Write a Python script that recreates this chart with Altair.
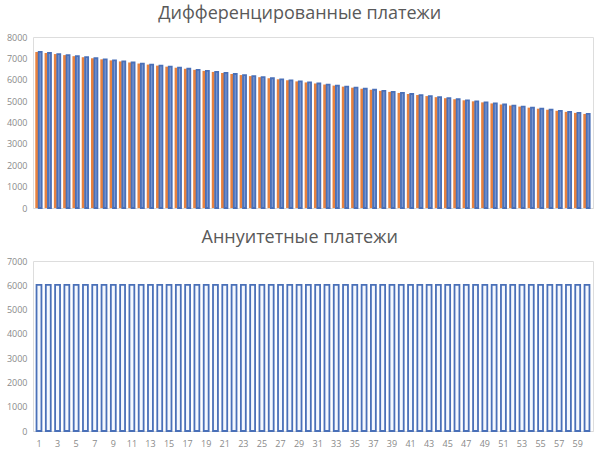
import altair as alt
import pandas as pd

months = list(range(1, 61))
diff_payments = [
    7300, 7251, 7202, 7153, 7103, 7054, 7005, 6956, 6907, 6858,
    6808, 6759, 6710, 6661, 6612, 6563, 6514, 6464, 6415, 6366,
    6317, 6268, 6219, 6170, 6120, 6071, 6022, 5973, 5924, 5875,
    5825, 5776, 5727, 5678, 5629, 5580, 5531, 5481, 5432, 5383,
    5334, 5285, 5236, 5186, 5137, 5088, 5039, 4990, 4941, 4892,
    4842, 4793, 4744, 4695, 4646, 4597, 4548, 4498, 4449, 4400,
]
annuity_payments = [6020] * 60

title_top = "Дифференцированные платежи"
title_bottom = "Аннуитетные платежи"

df_top = pd.DataFrame({"month": months, "value": diff_payments})
df_bot = pd.DataFrame({"month": months, "value": annuity_payments})

W = 560
BLUE = "#4a70b8"
ORANGE = "#e8823f"
FILL = "#7a98d4"
GRAY = "#8a8a8a"

xscale = alt.Scale(paddingInner=0.47, paddingOuter=0.38)

def title(t):
    return alt.TitleParams(t, fontSize=18, font="Open Sans", fontWeight="normal",
                           color="#595959", anchor="middle", frame="bounds", offset=10)

# Top panel
x_top = alt.X("month:O", scale=xscale, title=None,
              axis=alt.Axis(labels=False, ticks=False, domainColor="#d9d9d9"))
y_top = alt.Y("value:Q", scale=alt.Scale(domain=[0, 8000]), title=None,
              axis=alt.Axis(values=list(range(0, 8001, 1000)), format="d", grid=False,
                            domain=False, ticks=False, labelFontSize=9, labelColor=GRAY,
                            labelPadding=6))

orange = alt.Chart(df_top).mark_bar(color=ORANGE, width=3, xOffset=-2.2).encode(x=x_top, y=y_top)
blue = alt.Chart(df_top).mark_bar(fill=FILL, stroke=BLUE, strokeWidth=1.8, width=3,
                                  xOffset=1.2).encode(x=x_top, y=y_top)
top = alt.layer(orange, blue).properties(width=W, height=171, title=title(title_top))

# Bottom panel
x_bot = alt.X("month:O", scale=xscale, title=None,
              axis=alt.Axis(ticks=False, domainColor="#d9d9d9", labelAngle=0,
                            labelFontSize=9, labelColor=GRAY, labelPadding=8,
                            labelExpr="datum.value % 2 == 1 ? datum.label : ''"))
y_bot = alt.Y("value:Q", scale=alt.Scale(domain=[0, 7000]), title=None,
              axis=alt.Axis(values=list(range(0, 7001, 1000)), format="d", grid=False,
                            domain=False, ticks=False, labelFontSize=9, labelColor=GRAY,
                            labelPadding=6))
bottom = alt.Chart(df_bot).mark_bar(fill="#f4f8fe", stroke=BLUE, strokeWidth=1.8).encode(
    x=x_bot, y=y_bot).properties(width=W, height=170, title=title(title_bottom))

chart = alt.vconcat(top, bottom, spacing=14).properties(
    padding={"left": 5, "top": 4, "right": 5, "bottom": 5}
).configure_view(stroke=None).configure(background="white", font="Open Sans")

chart.save("out.html", embed_options={"renderer": "svg", "actions": False})
